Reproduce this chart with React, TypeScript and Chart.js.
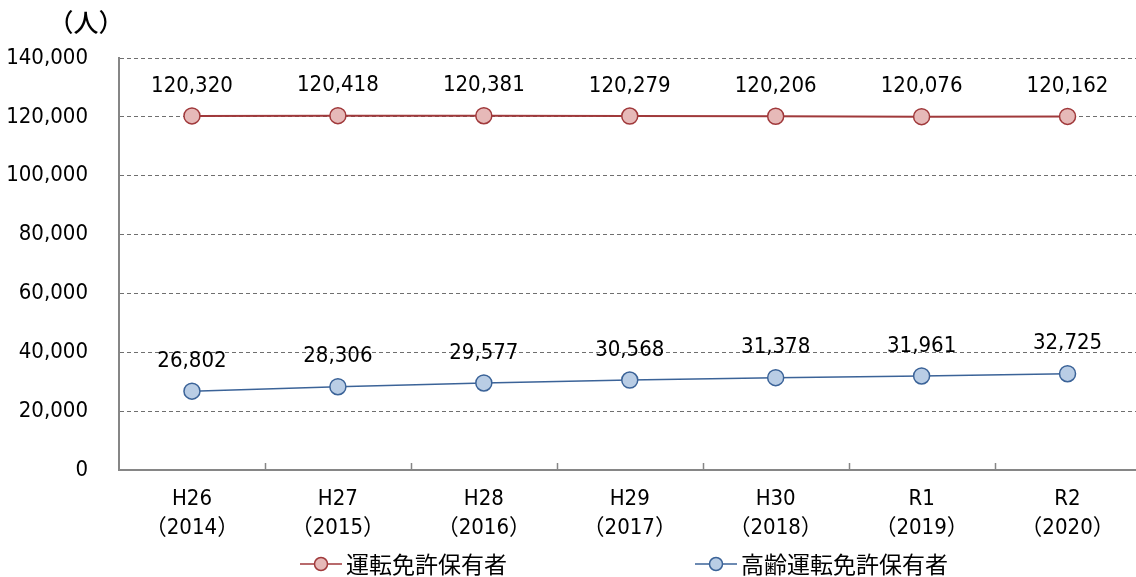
import React, { useEffect, useRef } from 'react';
import { Chart, registerables } from 'chart.js';

Chart.register(...registerables);

const categories: string[][] = [
  ['H26', '（2014）'],
  ['H27', '（2015）'],
  ['H28', '（2016）'],
  ['H29', '（2017）'],
  ['H30', '（2018）'],
  ['R1', '（2019）'],
  ['R2', '（2020）'],
];
const licenseHolders = [120320, 120418, 120381, 120279, 120206, 120076, 120162];
const elderlyHolders = [26802, 28306, 29577, 30568, 31378, 31961, 32725];
const seriesNames = ['運転免許保有者', '高齢運転免許保有者'];
const yMin = 0;
const yMax = 140000;
const yStep = 20000;
const unitLabel = '（人）';

const NUM_FONT = "'Liberation Sans Narrow', 'DejaVu Sans Condensed', 'Noto Sans CJK JP', sans-serif";
const CJK_FONT = "'Noto Sans CJK JP', sans-serif";

const RED_LINE = '#A0393B';
const RED_FILL = '#E6B9B8';
const BLUE_LINE = '#3B6398';
const BLUE_FILL = '#B9CDE5';

const fmt = (n: number) => n.toLocaleString('en-US');

const dataLabelPlugin = {
  id: 'dataLabels',
  afterDatasetsDraw(chart: any) {
    const ctx = chart.ctx;
    ctx.save();
    ctx.font = `22px ${NUM_FONT}`;
    ctx.fillStyle = '#000';
    ctx.textAlign = 'center';
    ctx.textBaseline = 'middle';
    chart.data.datasets.forEach((ds: any, di: number) => {
      const meta = chart.getDatasetMeta(di);
      meta.data.forEach((pt: any, i: number) => {
        ctx.fillText(fmt(ds.data[i]), pt.x, pt.y - 30);
      });
    });
    ctx.restore();
  },
};

const decorPlugin = {
  id: 'decor',
  afterDraw(chart: any) {
    const ctx = chart.ctx;
    const area = chart.chartArea;
    const xs = chart.scales.x;
    // inner tick marks between categories
    ctx.save();
    ctx.strokeStyle = '#868686';
    ctx.lineWidth = 1.5;
    for (let i = 0; i < categories.length - 1; i++) {
      const x = Math.round(xs.getPixelForValue(i + 0.5)) + 0.5;
      ctx.beginPath();
      ctx.moveTo(x, area.bottom);
      ctx.lineTo(x, area.bottom - 7);
      ctx.stroke();
    }
    ctx.restore();

    // unit label
    ctx.save();
    ctx.font = `500 25px ${CJK_FONT}`;
    ctx.fillStyle = '#000';
    ctx.textAlign = 'center';
    ctx.textBaseline = 'middle';
    ctx.fillText(unitLabel, 86, 22);
    ctx.restore();

    // legend
    const items = [
      { x: area.left + 181, line: RED_LINE, fill: RED_FILL, text: seriesNames[0] },
      { x: area.left + 576, line: BLUE_LINE, fill: BLUE_FILL, text: seriesNames[1] },
    ];
    const ly = 564;
    items.forEach((it) => {
      ctx.save();
      ctx.strokeStyle = it.line;
      ctx.lineWidth = 1.5;
      ctx.beginPath();
      ctx.moveTo(it.x, ly);
      ctx.lineTo(it.x + 42, ly);
      ctx.stroke();
      ctx.beginPath();
      ctx.arc(it.x + 21, ly, 6.5, 0, Math.PI * 2);
      ctx.fillStyle = it.fill;
      ctx.fill();
      ctx.lineWidth = 1.5;
      ctx.stroke();
      ctx.font = `23px ${CJK_FONT}`;
      ctx.fillStyle = '#000';
      ctx.textAlign = 'left';
      ctx.textBaseline = 'middle';
      ctx.fillText(it.text, it.x + 46, ly);
      ctx.restore();
    });
  },
};

export default function App() {
  const ref = useRef<HTMLCanvasElement | null>(null);
  useEffect(() => {
    if (!ref.current) return;
    const chart = new Chart(ref.current, {
      type: 'line',
      data: {
        labels: categories,
        datasets: [
          {
            label: seriesNames[0],
            data: licenseHolders,
            borderColor: RED_LINE,
            backgroundColor: RED_FILL,
            pointBackgroundColor: RED_FILL,
            pointBorderColor: RED_LINE,
            pointRadius: 8,
            pointBorderWidth: 1.5,
            borderWidth: 2,
            tension: 0,
          },
          {
            label: seriesNames[1],
            data: elderlyHolders,
            borderColor: BLUE_LINE,
            backgroundColor: BLUE_FILL,
            pointBackgroundColor: BLUE_FILL,
            pointBorderColor: BLUE_LINE,
            pointRadius: 8,
            pointBorderWidth: 1.5,
            borderWidth: 1.5,
            tension: 0,
          },
        ],
      },
      options: {
        responsive: false,
        animation: false,
        layout: { padding: { left: 0, right: 7, top: 58, bottom: 0 } },
        plugins: {
          legend: { display: false },
          tooltip: { enabled: false },
          title: { display: false },
        },
        scales: {
          x: {
            offset: true,
            grid: { display: false, drawTicks: false },
            border: { display: true, color: '#868686', width: 2 },
            ticks: {
              color: '#000',
              padding: 15,
              font: { family: NUM_FONT, size: 22, lineHeight: 1.3 },
              maxRotation: 0,
              autoSkip: false,
            },
            afterFit: (s: any) => {
              s.height = 107;
            },
          },
          y: {
            min: yMin,
            max: yMax,
            ticks: {
              stepSize: yStep,
              color: '#000',
              padding: 31,
              font: { family: NUM_FONT, size: 22 },
              callback: (v: any) => fmt(Number(v)),
            },
            grid: { color: '#6F6F6F', lineWidth: 1, drawTicks: false },
            border: { display: true, color: '#868686', width: 2, dash: [4, 3] },
            afterFit: (s: any) => {
              s.width = 119;
            },
          },
        },
      },
      plugins: [dataLabelPlugin, decorPlugin],
    });
    return () => chart.destroy();
  }, []);
  return (
    <div style={{ position: 'fixed', left: 0, top: 0, width: 1136, height: 577, overflow: 'hidden', background: '#fff' }}>
      <canvas ref={ref} width={1150} height={577} style={{ display: 'block' }} />
    </div>
  );
}
